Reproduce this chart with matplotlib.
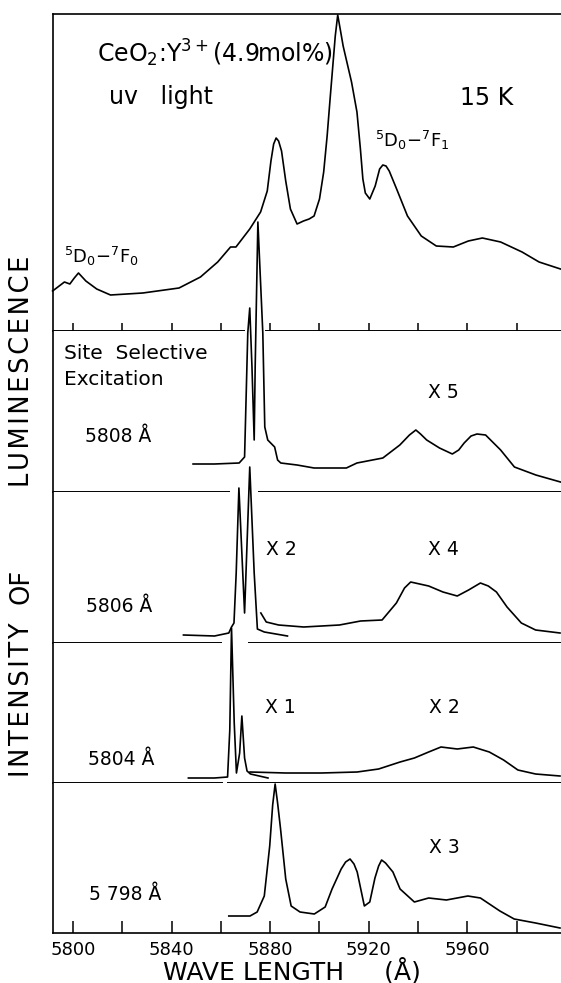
import matplotlib.pyplot as plt

# wavelength (A) and intensity (arb. units)
uv_wl = [5791.7, 5796.5, 5798.7, 5800.5, 5802.2, 5805.2, 5809.6, 5815.2, 5828.3, 5843.0,
         5851.7, 5858.7, 5863.9, 5866.1, 5871.7, 5876.1, 5878.8, 5880.3, 5881.4, 5882.4,
         5883.4, 5884.6, 5886.3, 5888.2, 5890.9, 5893.5, 5895.8, 5897.8, 5900.0, 5901.7,
         5903.1, 5904.3, 5905.4, 5906.4, 5907.4, 5908.4, 5909.6, 5911.2, 5913.0, 5915.2,
         5916.6, 5917.6, 5918.6, 5920.4, 5922.6, 5924.4, 5925.7, 5927.0, 5928.3, 5931.3,
         5935.7, 5941.3, 5947.4, 5954.3, 5960.4, 5966.1, 5973.5, 5982.2, 5989.1, 5997.8]
uv_int = [40, 49, 47, 53, 58, 50, 42, 36, 38, 43,
          54, 69, 84, 84, 102, 119, 140, 170, 187, 193,
          190, 180, 150, 122, 107, 110, 112, 115, 132, 159,
          195, 232, 265, 295, 316, 302, 285, 268, 249, 219,
          182, 152, 138, 132, 145, 162, 166, 165, 160, 142,
          115, 95, 85, 84, 90, 93, 89, 79, 69, 62]

ex5808_wl = [5848.7, 5857.4, 5867.4, 5869.6, 5870.9, 5871.7, 5872.6, 5873.5, 5873.9, 5875.0,
             5877.0, 5877.8, 5879.0, 5881.8, 5883.0, 5884.3, 5890.9, 5897.8, 5910.9, 5915.2,
             5925.7, 5932.6, 5936.5, 5939.1, 5941.0, 5943.5, 5948.7, 5953.9, 5956.5, 5958.7,
             5961.5, 5963.9, 5967.4, 5973.5, 5979.1, 5987.8, 5997.8]
ex5808_int = [28, 28, 29, 35, 159, 184, 125, 52, 125, 270,
              159, 65, 52, 45, 32, 29, 27, 24, 24, 29,
              34, 47, 57, 62, 58, 52, 44, 38, 42, 49,
              56, 58, 57, 42, 25, 17, 10]

# 5806 excitation: peak part (x2) and broad part (x4)
ex5806_wl_a = [5844.8, 5857.4, 5863.2, 5864.3, 5865.3, 5866.2, 5867.3, 5869.6, 5871.7, 5873.5,
               5874.8, 5877.6, 5887.0]
ex5806_int_a = [8, 7, 10, 16, 20, 70, 155, 30, 176, 70,
                14, 11, 7]
ex5806_wl_b = [5876.2, 5878.4, 5883.4, 5893.6, 5908.1, 5916.7, 5925.4, 5931.2, 5934.5, 5937.0,
               5944.3, 5950.1, 5955.9, 5960.5, 5965.3, 5968.5, 5971.8, 5976.1, 5981.9, 5987.7,
               5997.6]
ex5806_int_b = [30, 21, 18, 16, 18, 22, 23, 40, 55, 61,
                57, 51, 47, 53, 60, 57, 51, 36, 20, 13,
                10]

# 5804 excitation: peak part (x1) and broad part (x2)
ex5804_wl_a = [5846.8, 5857.4, 5862.7, 5863.6, 5864.3, 5865.4, 5866.3, 5867.6, 5868.5, 5869.6,
               5870.6, 5872.0, 5879.1]
ex5804_int_a = [5, 5, 6, 53, 155, 60, 10, 30, 67, 25,
                12, 9, 5]
ex5804_wl_b = [5871.8, 5886.3, 5900.8, 5915.3, 5924.0, 5932.7, 5938.5, 5944.3, 5949.3, 5955.9,
               5962.4, 5968.9, 5974.7, 5980.5, 5987.7, 5997.6]
ex5804_int_b = [11, 10, 10, 11, 14, 21, 25, 31, 36, 34,
                36, 31, 23, 13, 9, 7]

ex5798_wl = [5863.2, 5871.8, 5874.7, 5877.6, 5879.8, 5881.0, 5882.0, 5883.0, 5884.2, 5886.3,
             5888.5, 5892.1, 5897.9, 5902.3, 5905.1, 5908.8, 5910.6, 5912.4, 5914.0, 5915.3,
             5918.2, 5920.4, 5922.5, 5924.0, 5925.2, 5926.8, 5929.8, 5932.7, 5938.5, 5944.3,
             5951.5, 5960.2, 5965.3, 5973.2, 5979.0, 5987.7, 5997.6]
ex5798_int = [17, 17, 21, 37, 87, 128, 149, 130, 104, 54,
              27, 21, 19, 26, 44, 64, 71, 74, 69, 61,
              27, 31, 55, 67, 73, 70, 61, 44, 31, 35,
              33, 37, 35, 22, 14, 10, 5]

tick_pos = [5800, 5820, 5840, 5860, 5880, 5900, 5920, 5940, 5960, 5980]
tick_lab = ['5800', '5840', '5880', '5920', '5960']

# gaps in the panel separators where the peaks cross them
sep_gaps = [(5869.6, 5877.7), (5863.8, 5874.9), (5860.6, 5870.8), (5860.8, 5862.4)]

W, H = 561, 983
XMIN, XMAX = 5791.7, 5998
fig = plt.figure(figsize=(W / 100, H / 100), dpi=100)


def panel(top, bottom):
    left = 52.6
    return fig.add_axes([left / W, 1 - bottom / H, 1 - left / W, (bottom - top) / H])


def put(x, y, s, size, **kw):
    fig.text(x / W, 1 - y / H, s, fontsize=size, va='baseline', ha='left', **kw)


edges = [14, 331, 492, 643, 783, 933]
axes = [panel(edges[i], edges[i + 1]) for i in range(5)]

curves = [
    [(uv_wl, uv_int)],
    [(ex5808_wl, ex5808_int)],
    [(ex5806_wl_a, ex5806_int_a), (ex5806_wl_b, ex5806_int_b)],
    [(ex5804_wl_a, ex5804_int_a), (ex5804_wl_b, ex5804_int_b)],
    [(ex5798_wl, ex5798_int)],
]

for i, ax in enumerate(axes):
    ax.set_xlim(XMIN, XMAX)
    ax.set_ylim(0, edges[i + 1] - edges[i])
    for wl, inten in curves[i]:
        ax.plot(wl, inten, color='black', lw=1.2, clip_on=False, solid_joinstyle='round')
    ax.set_yticks([])
    ax.spines['right'].set_visible(False)
    ax.spines['left'].set_linewidth(1.2)
    ax.spines['top'].set_visible(i == 0)
    ax.spines['top'].set_linewidth(1.2)
    ax.spines['bottom'].set_visible(i == 4)
    ax.spines['bottom'].set_linewidth(1.2)
    if i < 4:
        g0, g1 = sep_gaps[i]
        ax.hlines([0, 0], [XMIN, g1], [g0, XMAX], colors='black', linewidths=1.4, clip_on=False)
    if i == 0:
        ax.set_xticks(tick_pos)
        ax.set_xticklabels([])
        ax.tick_params(axis='x', direction='in', length=6, width=1.1)
    elif i == 4:
        ax.set_xticks(tick_pos[::2])
        ax.set_xticks(tick_pos[1::2], minor=True)
        ax.set_xticklabels(tick_lab, fontsize=13)
        ax.tick_params(axis='x', which='both', direction='in', length=8.5, width=1.1, pad=6)
    else:
        ax.set_xticks([])

# text labels
put(97, 62, 'CeO$_2$:Y$^{3+}$(4.9mol%)', 17)
put(109, 104, 'uv   light', 17)
put(460, 105, '15 K', 17)
put(375, 147, r'$^5$D$_0$$-$$^7$F$_1$', 13)
put(64, 263, r'$^5$D$_0$$-$$^7$F$_0$', 13)
put(64, 359, 'Site  Selective', 14.5)
put(64, 385, 'Excitation', 14.5)
put(428, 398, 'X 5', 13.5)
put(85, 442, '5808 Å', 13.5)
put(266, 555, 'X 2', 13.5)
put(428, 555, 'X 4', 13.5)
put(86, 612, '5806 Å', 13.5)
put(265, 713, 'X 1', 13.5)
put(429, 713, 'X 2', 13.5)
put(88, 765, '5804 Å', 13.5)
put(429, 853, 'X 3', 13.5)
put(89, 900, '5 798 Å', 13.5)

# axis titles
fig.text(292 / W, 1 - 971 / H, 'WAVE LENGTH     (Å)', fontsize=18, ha='center', va='center')
fig.text(22 / W, 1 - 371 / H, '\u200a'.join('LUMINESCENCE'), fontsize=18.5, rotation=90,
         ha='center', va='center')
fig.text(22 / W, 1 - 586 / H, 'OF', fontsize=18.5, rotation=90, ha='center', va='center')
fig.text(22 / W, 1 - 700 / H, '\u200a'.join('INTENSITY'), fontsize=18.5, rotation=90,
         ha='center', va='center')

fig.savefig('out.png', dpi=100)
